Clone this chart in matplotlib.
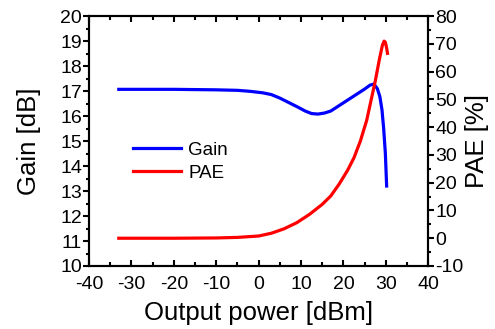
import matplotlib
matplotlib.use("Agg")
import matplotlib.pyplot as plt
from matplotlib.ticker import MultipleLocator

plt.rcParams["font.family"] = ["Liberation Sans", "DejaVu Sans"]
plt.rcParams["axes.unicode_minus"] = False

# gain vs output power
gain_x = [-33, -20, -10, -5, -2, 1, 3, 5, 7, 9, 11, 12.5, 14, 15.5, 17, 19,
          21, 23, 25, 26.3, 27.2, 28, 28.6, 29.1, 29.5, 29.9, 30.2]
gain_db = [17.07, 17.07, 17.05, 17.03, 16.99, 16.93, 16.86, 16.72, 16.55,
           16.38, 16.2, 16.1, 16.08, 16.12, 16.2, 16.42, 16.64, 16.86, 17.08,
           17.24, 17.28, 17.1, 16.78, 16.25, 15.5, 14.5, 13.2]

# power added efficiency vs output power
pae_x = [-33, -20, -10, -5, 0, 3, 6, 9, 12, 15, 17, 19, 21, 22.5, 24, 25.5,
         26.5, 27.5, 28.5, 29.2, 29.6, 29.9, 30.2, 30.4]
pae_pct = [0, 0, 0.1, 0.3, 0.8, 1.8, 3.4, 5.6, 8.6, 12.2, 15.2, 19.5, 24.5,
           29, 35, 42.5, 49.5, 56.5, 64.5, 69.5, 71, 70.6, 68.5, 66.6]


def main():
    fig = plt.figure(figsize=(4.95, 3.29), dpi=100)
    ax = fig.add_axes([0.180, 0.1915, 0.685, 0.7595])
    ax2 = ax.twinx()

    l1, = ax.plot(gain_x, gain_db, color="#0000ff", lw=2.3, label="Gain")
    l2, = ax2.plot(pae_x, pae_pct, color="#ff0000", lw=2.3, label="PAE")

    ax.set_xlim(-40, 40)
    ax.set_ylim(10, 20)
    ax2.set_ylim(-10, 80)

    ax.xaxis.set_major_locator(MultipleLocator(10))
    ax.xaxis.set_minor_locator(MultipleLocator(5))
    ax.yaxis.set_major_locator(MultipleLocator(1))
    ax.yaxis.set_minor_locator(MultipleLocator(0.5))
    ax2.yaxis.set_major_locator(MultipleLocator(10))
    ax2.yaxis.set_minor_locator(MultipleLocator(5))

    ax.tick_params(axis="x", which="both", direction="in", top=True,
                   labelsize=14, width=1.5, pad=7)
    ax.tick_params(axis="x", which="major", length=4)
    ax.tick_params(axis="x", which="minor", length=3)
    ax.tick_params(axis="y", which="both", direction="out", labelsize=14,
                   width=1.5, pad=1)
    ax.tick_params(axis="y", which="major", length=4)
    ax.tick_params(axis="y", which="minor", length=2.5)
    ax2.tick_params(axis="y", which="both", direction="out", labelsize=14,
                    width=1.5, pad=1)
    ax2.tick_params(axis="y", which="major", length=4)
    ax2.tick_params(axis="y", which="minor", length=2.5)

    for a in (ax, ax2):
        for s in a.spines.values():
            s.set_linewidth(1.5)

    ax.set_xlabel("Output power [dBm]", fontsize=18.5, labelpad=6)
    ax.set_ylabel("Gain [dB]", fontsize=18.5, labelpad=14)
    ax2.set_ylabel("PAE [%]", fontsize=18.5, labelpad=1)

    ax.legend([l1, l2], ["Gain", "PAE"], loc="upper left",
              bbox_to_anchor=(0.09, 0.55), frameon=False, fontsize=13.5,
              handlelength=2.6, handletextpad=0.35, labelspacing=0.3,
              borderpad=0.2)

    fig.savefig("out.png", dpi=100)
    plt.close(fig)


if __name__ == "__main__":
    main()
